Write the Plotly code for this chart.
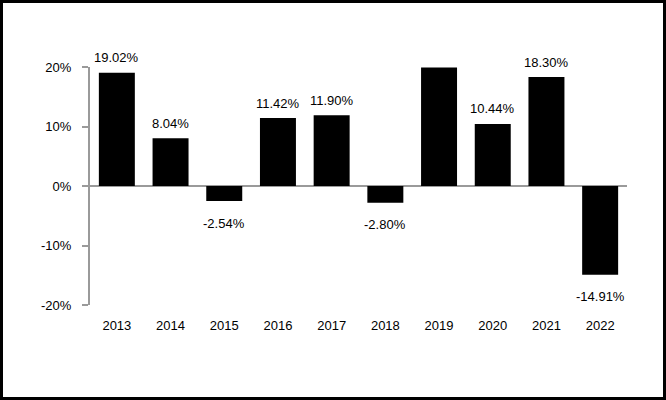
import plotly.graph_objects as go

years = ["2013", "2014", "2015", "2016", "2017", "2018", "2019", "2020", "2021", "2022"]
returns = [19.02, 8.04, -2.54, 11.42, 11.90, -2.80, 19.9, 10.44, 18.30, -14.91]
labels = ["19.02%", "8.04%", "-2.54%", "11.42%", "11.90%", "-2.80%", "", "10.44%", "18.30%", "-14.91%"]
y_ticks = [-20, -10, 0, 10, 20]
y_tick_text = ["-20%", "-10%", "0%", "10%", "20%"]

W, H = 666, 400
L, R, T, B = 90, 39, 67, 95
pw, ph = W - L - R, H - T - B

fig = go.Figure()
fig.add_trace(go.Bar(x=years, y=returns, marker=dict(color="black", line=dict(width=0)),
                     width=0.67, hoverinfo="skip"))

for i, (v, t) in enumerate(zip(returns, labels)):
    if t:
        fig.add_annotation(x=i, y=v, xref="x", yref="y", text=t, showarrow=False,
                           yshift=15 if v >= 0 else -22,
                           font=dict(family="Liberation Sans, Arial", size=13, color="black"))

fig.update_layout(
    width=W, height=H,
    margin=dict(l=L, r=R, t=T, b=B),
    paper_bgcolor="white", plot_bgcolor="white",
    showlegend=False,
    font=dict(family="Liberation Sans, Arial", size=13, color="black"),
    xaxis=dict(type="category", showgrid=False, showline=False, zeroline=False,
               ticks="outside", ticklen=8, tickcolor="rgba(0,0,0,0)",
               range=[-0.5, 9.5]),
    yaxis=dict(range=[-20, 20], tickvals=y_ticks, ticktext=y_tick_text,
               showgrid=False, showline=True, linecolor="#9a9a9a", linewidth=2,
               ticks="outside", ticklen=6, tickcolor="#9a9a9a", tickwidth=2,
               zeroline=True, zerolinecolor="#9a9a9a", zerolinewidth=2,
               ticklabelstandoff=8),
    shapes=[dict(type="rect", xref="paper", yref="paper",
                 x0=(1.5 - L) / pw, x1=(W - 1.5 - L) / pw,
                 y0=(T + ph - (H - 1.5)) / ph, y1=(T + ph - 1.5) / ph,
                 line=dict(color="black", width=3), fillcolor="rgba(0,0,0,0)")],
)
fig.update_traces(cliponaxis=False)

fig.write_html("out.html", config={"displayModeBar": False},
               post_script="document.body.style.margin='0';")
